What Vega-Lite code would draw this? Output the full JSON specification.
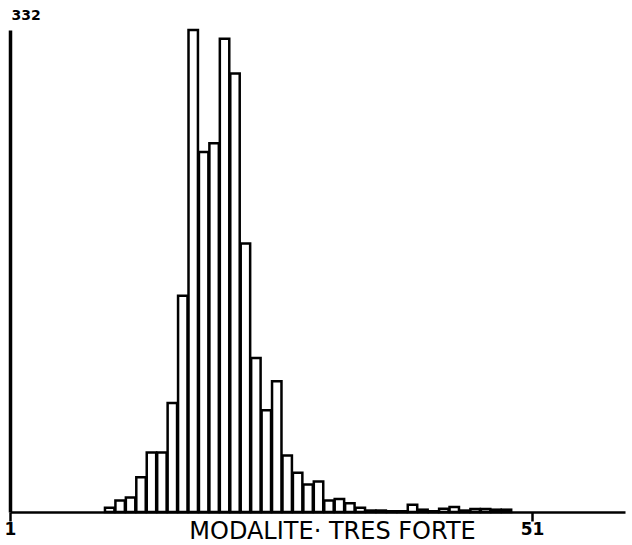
{
  "$schema": "https://vega.github.io/schema/vega-lite/v6.json",
  "width": 615,
  "height": 482,
  "autosize": {"type": "none"},
  "padding": {"left": 10, "top": 30, "right": 7, "bottom": 33},
  "background": "white",
  "config": {"view": {"stroke": null}},
  "data": {"values": [
    {"start": 10, "end": 11, "count": 3},
    {"start": 11, "end": 12, "count": 8},
    {"start": 12, "end": 13, "count": 10},
    {"start": 13, "end": 14, "count": 24},
    {"start": 14, "end": 15, "count": 41},
    {"start": 15, "end": 16, "count": 41},
    {"start": 16, "end": 17, "count": 75},
    {"start": 17, "end": 18, "count": 149},
    {"start": 18, "end": 19, "count": 332},
    {"start": 19, "end": 20, "count": 248},
    {"start": 20, "end": 21, "count": 254},
    {"start": 21, "end": 22, "count": 326},
    {"start": 22, "end": 23, "count": 302},
    {"start": 23, "end": 24, "count": 185},
    {"start": 24, "end": 25, "count": 106},
    {"start": 25, "end": 26, "count": 70},
    {"start": 26, "end": 27, "count": 90},
    {"start": 27, "end": 28, "count": 39},
    {"start": 28, "end": 29, "count": 27},
    {"start": 29, "end": 30, "count": 19},
    {"start": 30, "end": 31, "count": 21},
    {"start": 31, "end": 32, "count": 8},
    {"start": 32, "end": 33, "count": 9},
    {"start": 33, "end": 34, "count": 6},
    {"start": 34, "end": 35, "count": 3},
    {"start": 35, "end": 36, "count": 1},
    {"start": 36, "end": 37, "count": 1},
    {"start": 37, "end": 38, "count": 0.5},
    {"start": 38, "end": 39, "count": 0.5},
    {"start": 39, "end": 40, "count": 5},
    {"start": 40, "end": 41, "count": 1.6},
    {"start": 41, "end": 42, "count": 0.5},
    {"start": 42, "end": 43, "count": 2.3},
    {"start": 43, "end": 44, "count": 3.4},
    {"start": 44, "end": 45, "count": 1},
    {"start": 45, "end": 46, "count": 2},
    {"start": 46, "end": 47, "count": 2},
    {"start": 47, "end": 48, "count": 1.6},
    {"start": 48, "end": 49, "count": 1.6}
  ]},
  "mark": {"type": "bar", "fill": "white", "stroke": "black", "strokeWidth": 2.5},
  "encoding": {
    "x": {
      "field": "start", "type": "quantitative", "bin": "binned",
      "scale": {"domain": [1, 59.9], "nice": false, "zero": false},
      "axis": {
        "values": [1, 51],
        "grid": false,
        "domainColor": "black", "domainWidth": 2.5,
        "tickColor": "black", "tickWidth": 2.5, "tickSize": 9,
        "labelFont": "DejaVu Sans", "labelFontWeight": "bold", "labelFontSize": 17, "labelColor": "black",
        "labelPadding": 0,
        "labelFlush": false,
        "title": "MODALITE· TRES FORTE",
        "titleFont": "DejaVu Sans", "titleFontWeight": "normal", "titleFontSize": 24, "titleColor": "black",
        "titleX": 322, "titleY": 19, "titleBaseline": "middle", "titleAnchor": "middle", "titleAlign": "center"
      }
    },
    "x2": {"field": "end"},
    "y": {
      "field": "count", "type": "quantitative",
      "scale": {"domain": [0, 332], "nice": false},
      "axis": {
        "values": [332],
        "grid": false,
        "domainColor": "black", "domainWidth": 3.5,
        "ticks": false,
        "labelFlush": false,
        "labelFont": "DejaVu Sans", "labelFontWeight": "bold", "labelFontSize": 14, "labelColor": "black",
        "labelAlign": "left", "labelBaseline": "middle", "labelPadding": -1, "labelOffset": -15,
        "title": null
      }
    }
  }
}
